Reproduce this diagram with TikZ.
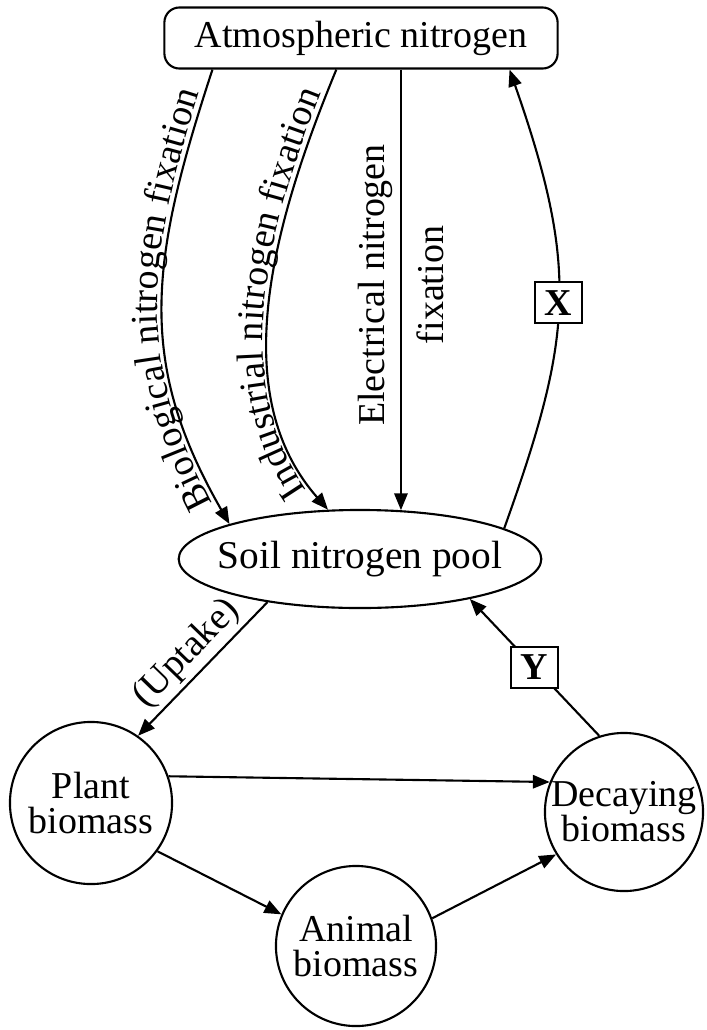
\documentclass[tikz,border=0pt]{standalone}
\usepackage{fontspec}
\setmainfont{Liberation Serif}
\usetikzlibrary{arrows.meta, shapes.geometric, decorations.text}

\begin{document}
\begin{tikzpicture}[x=0.01cm, y=-0.01cm, >={Triangle[length=4.8pt, width=3.8pt]},
    line width=0.6pt, font=\fontsize{10.8}{13}\selectfont,
    biomass/.style={draw, circle, minimum size=1.62cm, inner sep=0pt, align=center, font=\fontsize{10.8}{10}\selectfont},
    tag/.style={draw, fill=white, line width=0.5pt, minimum width=0.47cm, minimum height=0.41cm, inner sep=0pt, font=\fontsize{10.8}{13}\selectfont\bfseries},
    along/.style={decorate, decoration={text along path, text align=center, raise=1.5pt, text={|\fontsize{10.8}{13}\selectfont|#1}}}]
  \useasboundingbox (0,0) rectangle (707,1030);

  \node[draw, rounded corners=0.15cm, minimum width=3.93cm, minimum height=0.61cm, inner ysep=1pt] (atm) at (361,38) {Atmospheric nitrogen};
  \node[draw, ellipse, minimum width=3.56cm, minimum height=0.98cm, inner xsep=-0.14cm, inner ysep=0pt, font=\fontsize{11.2}{13}\selectfont] (soil) at (360,559) {Soil nitrogen pool};
  \node[biomass] (plant) at (91,803) {Plant\\biomass};
  \node[biomass, minimum size=1.6cm] (animal) at (356,946) {Animal\\biomass};
  \node[biomass, minimum size=1.58cm, inner sep=-0.06cm] (decay) at (624,812) {Decaying\\biomass};

  \node[rotate=90, align=center, font=\fontsize{10.8}{16.5}\selectfont] (elec) at (401,285) {Electrical nitrogen\\fixation};

  \draw[->] (atm.192.7) .. controls +(-63,192) and +(-93,-162) .. (soil.165);
  \path[along={Biological nitrogen fixation}] (soil.165) .. controls +(-93,-162) and +(-63,192) .. (atm.192.7);
  \draw[->] (atm.-128.7) .. controls +(-67,162) and +(-100,-114) .. (soil.123);
  \path[along={Industrial nitrogen fixation}] (soil.123) .. controls +(-100,-114) and +(-67,162) .. (atm.-128.7);
  \draw[->] (soil.50 |- atm.south) -- (soil.50);
  \draw[->] (soil.12) .. controls +(68,-190) and +(70,200) .. (atm.-12.5) node[tag, pos=0.5] (x) {X};

  \draw[->] (soil.205) -- node[sloped, above=1pt, inner sep=0pt] (uptake) {(Uptake)} (plant.55);
  \draw[->] (decay.108) -- node[tag] (y) {Y} (soil.-20);
  \draw[->] (plant.19) -- (decay.158);
  \draw[->] (plant.-36) -- (animal.157);
  \draw[->] (animal.20) -- (decay.212);
\end{tikzpicture}
\end{document}
